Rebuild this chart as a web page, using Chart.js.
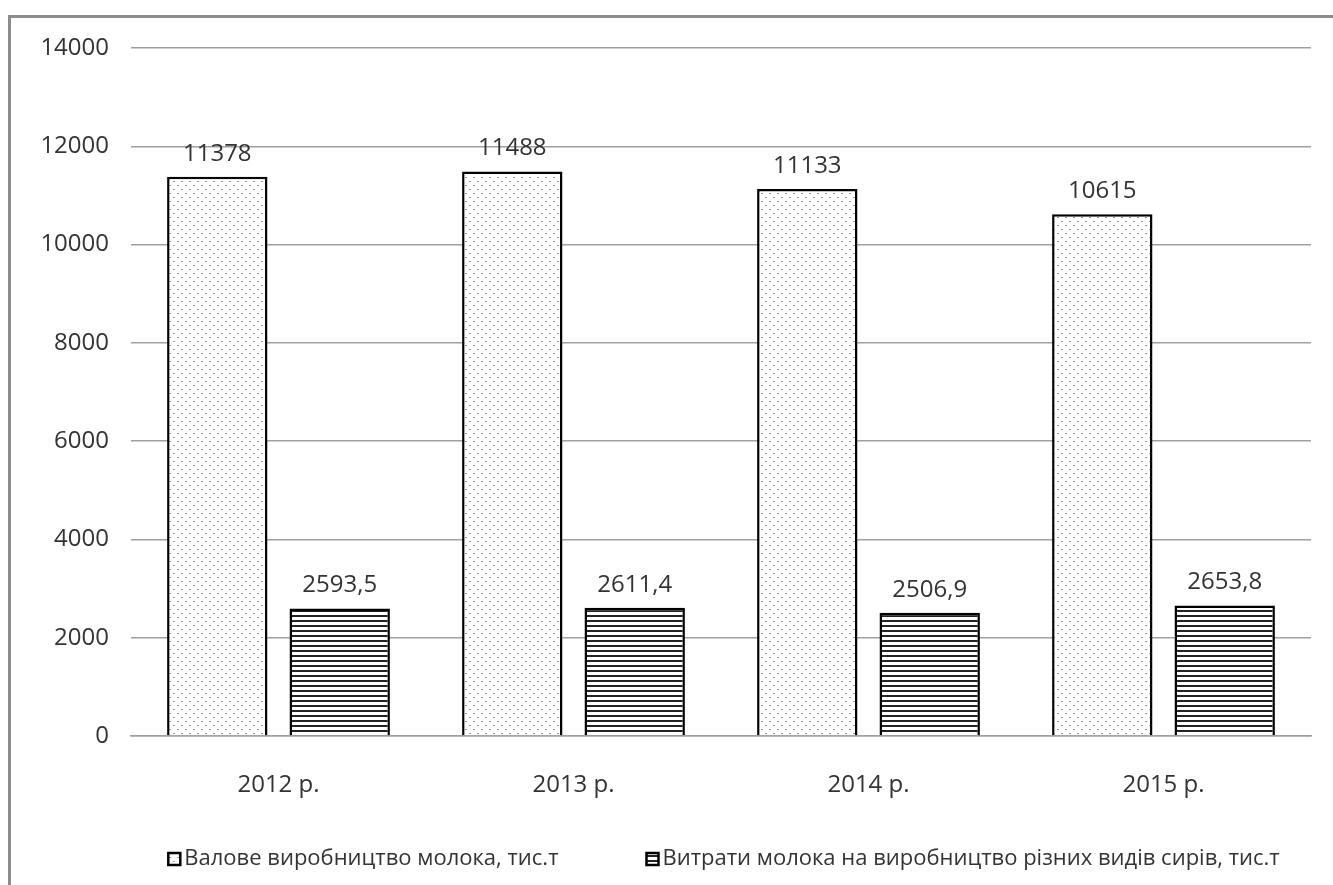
<!DOCTYPE html>
<html>
<head>
<meta charset="utf-8">
<script src="https://cdn.jsdelivr.net/npm/chart.js@4"></script>
<style>
    body { margin: 0; background: #fff; }
    #wrap { position: relative; width: 1333px; height: 885px; overflow: hidden; }
    #frame {
        position: absolute; left: 8px; top: 15px; width: 1400px; height: 1000px;
        border-left: 3px solid #8c8c8c; border-top: 3px solid #8c8c8c;
        pointer-events: none;
    }
</style>
</head>
<body>
<div id="wrap">
    <canvas id="chart" width="1333" height="885"></canvas>
    <div id="frame"></div>
</div>
<script>
const years = ['2012 р.', '2013 р.', '2014 р.', '2015 р.'];
const grossMilk = [11378, 11488, 11133, 10615];
const cheeseMilk = [2593.5, 2611.4, 2506.9, 2653.8];
const seriesNames = [
    'Валове виробництво молока, тис.т',
    'Витрати молока на виробництво різних видів сирів, тис.т',
];
const yTicks = [0, 2000, 4000, 6000, 8000, 10000, 12000, 14000];

const fontFamily = '"Open Sans", sans-serif';
const textColor = '#333';

function dotPattern() {
    const c = document.createElement('canvas');
    c.width = 8;
    c.height = 8;
    const g = c.getContext('2d');
    g.fillStyle = '#fff';
    g.fillRect(0, 0, 8, 8);
    g.fillStyle = '#999';
    g.fillRect(1, 1, 2, 1);
    g.fillRect(5, 5, 2, 1);
    return g.createPattern(c, 'repeat');
}

function linePattern() {
    const c = document.createElement('canvas');
    c.width = 5;
    c.height = 5;
    const g = c.getContext('2d');
    g.fillStyle = '#fff';
    g.fillRect(0, 0, 5, 5);
    g.fillStyle = '#222';
    g.fillRect(0, 0, 5, 2);
    return g.createPattern(c, 'repeat');
}

const valueLabels = {
    id: 'valueLabels',
    afterDatasetsDraw(chart) {
        const ctx = chart.ctx;
        ctx.save();
        ctx.font = '24px ' + fontFamily;
        ctx.fillStyle = textColor;
        ctx.textAlign = 'center';
        ctx.textBaseline = 'bottom';
        chart.data.datasets.forEach((ds, i) => {
            chart.getDatasetMeta(i).data.forEach((bar, j) => {
                const text = String(ds.data[j]).replace('.', ',');
                ctx.fillText(text, bar.x, bar.y - 11);
            });
        });
        ctx.restore();
    }
};

// legend drawn by hand: small square, tight gap, wide space between items
const bottomLegend = {
    id: 'bottomLegend',
    afterDraw(chart) {
        const ctx = chart.ctx;
        const box = 12, gap = 4, itemGap = 88, y = 859;
        ctx.save();
        ctx.font = '22px ' + fontFamily;
        const widths = chart.data.datasets.map(ds => ctx.measureText(ds.label).width);
        const total = widths.reduce((a, w) => a + box + gap + w, 0) + itemGap;
        let x = 724 - total / 2;
        chart.data.datasets.forEach((ds, i) => {
            ctx.fillStyle = ds.backgroundColor;
            ctx.fillRect(x, y - box / 2, box, box);
            ctx.strokeStyle = '#000';
            ctx.lineWidth = 2.5;
            ctx.strokeRect(x, y - box / 2, box, box);
            ctx.fillStyle = textColor;
            ctx.textBaseline = 'middle';
            ctx.textAlign = 'left';
            ctx.fillText(ds.label, x + box + gap, y);
            x += box + gap + widths[i] + itemGap;
        });
        ctx.restore();
    }
};

const ctx = document.getElementById('chart').getContext('2d');

new Chart(ctx, {
    type: 'bar',
    data: {
        labels: years,
        datasets: [
            {
                label: seriesNames[0],
                data: grossMilk,
                backgroundColor: dotPattern(),
                borderColor: '#000',
                borderWidth: 2.5,
            },
            {
                label: seriesNames[1],
                data: cheeseMilk,
                backgroundColor: linePattern(),
                borderColor: '#000',
                borderWidth: 2.5,
            },
        ],
    },
    options: {
        responsive: false,
        animation: false,
        devicePixelRatio: 1,
        layout: {
            padding: { top: 48, right: 22, bottom: 49, left: 0 }
        },
        datasets: {
            bar: {
                categoryPercentage: 0.83,
                barPercentage: 0.82,
            }
        },
        plugins: {
            tooltip: { enabled: false },
            legend: { display: false }
        },
        scales: {
            x: {
                grid: { display: false },
                border: { color: '#a0a0a0', width: 1.5 },
                ticks: {
                    font: { size: 24, family: fontFamily },
                    color: textColor,
                    padding: 27,
                },
                afterFit(scale) { scale.height = 100; }
            },
            y: {
                min: 0,
                max: 14000,
                afterBuildTicks(scale) {
                    scale.ticks = yTicks.map(v => ({ value: v }));
                },
                grid: {
                    color: '#a0a0a0',
                    lineWidth: 1.5,
                    drawTicks: false,
                },
                border: { display: false },
                ticks: {
                    font: { size: 24, family: fontFamily },
                    color: textColor,
                    padding: 22,
                    callback: v => String(v),
                },
                afterFit(scale) { scale.width = 131; }
            }
        }
    },
    plugins: [valueLabels, bottomLegend],
});
</script>
</body>
</html>
